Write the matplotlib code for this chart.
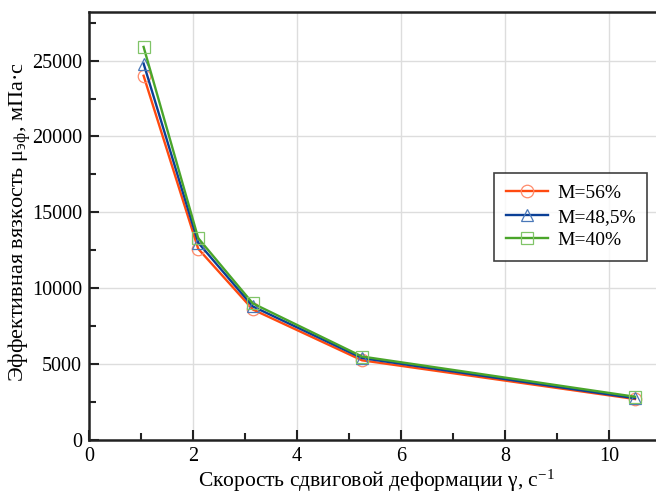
import numpy as np
import matplotlib.pyplot as plt
from matplotlib.ticker import MultipleLocator

plt.rcParams['font.family'] = ['Liberation Serif', 'DejaVu Serif']
plt.rcParams['mathtext.fontset'] = 'custom'
plt.rcParams['mathtext.rm'] = 'Liberation Serif'
plt.rcParams['mathtext.it'] = 'Liberation Serif:italic'

# скорость сдвига, 1/с
shear_rate = [1.05, 2.1, 3.15, 5.25, 10.5]
# эффективная вязкость, мПа·с
visc_56 = [24000, 12600, 8600, 5250, 2700]
visc_48 = [24800, 13000, 8800, 5400, 2750]
visc_40 = [25900, 13300, 9000, 5500, 2850]
labels = ["M=56%", "M=48,5%", "M=40%"]

fig = plt.figure(figsize=(6.56, 4.97), dpi=100)
ax = fig.add_axes([89 / 656, 57 / 497, 572 / 656, 428 / 497])

ax.plot(shear_rate, visc_56, color='#ff4a10', lw=1.7, marker='o', ms=9,
        mfc='none', mec='#ff8a6a', mew=0.9, label=labels[0])
ax.plot(shear_rate, visc_48, color='#0a3f96', lw=1.7, marker='^', ms=8,
        mfc='none', mec='#4a78b8', mew=0.9, label=labels[1])
ax.plot(shear_rate, visc_40, color='#4aa52a', lw=1.7, marker='s', ms=9,
        mfc='none', mec='#80c468', mew=0.9, label=labels[2])

ax.set_xlim(0, 11)
ax.set_ylim(0, 28200)
ax.xaxis.set_major_locator(MultipleLocator(2))
ax.xaxis.set_minor_locator(MultipleLocator(1))
ax.yaxis.set_major_locator(MultipleLocator(5000))
ax.yaxis.set_minor_locator(MultipleLocator(2500))
ax.tick_params(which='both', direction='in', width=1.5, labelsize=14.5, color='#222222')
ax.tick_params(which='major', length=7, pad=5)
ax.tick_params(which='minor', length=5)
ax.grid(True, which='major', color='#dddddd', lw=1.0)
ax.set_axisbelow(True)

for s in ['left', 'bottom', 'top']:
    ax.spines[s].set_linewidth(1.8)
    ax.spines[s].set_color('#222222')
ax.spines['right'].set_visible(False)

ax.set_xlabel("Скорость сдвиговой деформации γ, с$^{-1}$", fontsize=15.5, va='center')
ax.set_ylabel("Эффективная вязкость μ$_{\\mathrm{эф}}$, мПа·с", fontsize=16, va='center')
ax.xaxis.set_label_coords((376 - 89) / 572, (440 - 481) / 428)
ax.yaxis.set_label_coords((20 - 89) / 572, (440 - 222) / 428)

leg = ax.legend(loc='upper left', fontsize=14, frameon=True, fancybox=False,
                edgecolor='#111111', handlelength=2.2, handletextpad=0.45,
                borderpad=0.6, labelspacing=0.3, borderaxespad=0)
leg.get_frame().set_linewidth(1.2)
leg.set_bbox_to_anchor(((494 - 89) / 572, 1 - (173 - 12) / 428), transform=ax.transAxes)

fig.savefig('out.png', dpi=100)
